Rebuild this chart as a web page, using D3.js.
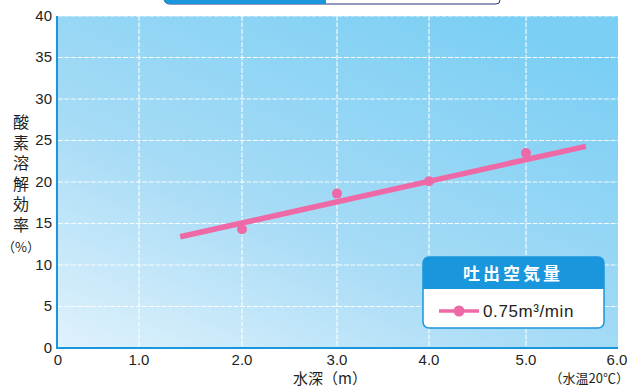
<!DOCTYPE html>
<html>
<head>
<meta charset="utf-8">
<script src="https://cdn.jsdelivr.net/npm/d3@7"></script>
<style>
  html, body { margin: 0; padding: 0; background: #fff; }
  svg { display: block; }
</style>
</head>
<body>
<svg id="chart" width="630" height="387"></svg>
<script>
// Measured points: water depth (m) vs dissolved-oxygen efficiency (%)
const depth = [2.0, 3.0, 4.0, 5.0];
const efficiency = [14.3, 18.6, 20.1, 23.5];
// Trend line end points
const trendDepth = [1.4, 5.65];
const trendEff = [13.4, 24.3];
// Axis ticks
const xTicks = [0, 1, 2, 3, 4, 5, 6];
const xTickLabels = ["0", "1.0", "2.0", "3.0", "4.0", "5.0", "6.0"];
const yTicks = [0, 5, 10, 15, 20, 25, 30, 35, 40];
const yTitle = "酸素溶解効率";
const legendTitle = "吐出空気量";
const seriesName = "0.75m³/min";

const svg = d3.select("#chart");
const L = 58, R = 618, T = 16, B = 348;
const pink = "#ee6aa7";
const blue = "#1a96dc";
const numFont = "'Liberation Sans', Arial, sans-serif";
const jpFont = "'Noto Sans CJK JP', sans-serif";

// The depth axis is drawn with slightly uneven spacing between ticks
const x = d3.scaleLinear().domain(xTicks).range([L, 139, 242, 337, 429, 526, R]);
const y = d3.scaleLinear().domain([0, 40]).range([B, T]);

// Background gradient of the plot area
const defs = svg.append("defs");
const grad = defs.append("linearGradient").attr("id", "bg")
  .attr("x1", 0).attr("y1", 1).attr("x2", 0.75).attr("y2", 0);
grad.append("stop").attr("offset", 0).attr("stop-color", "#e0f2fc");
grad.append("stop").attr("offset", 0.45).attr("stop-color", "#a6dbf6");
grad.append("stop").attr("offset", 1).attr("stop-color", "#7ccff4");

// Title tab peeking in at the top
svg.append("path")
  .attr("d", "M164,-20 L164,-2 Q164,4 170,4 L496,4 Q500,4 500,0 L500,-20")
  .attr("fill", "#fff").attr("stroke", "#23357a").attr("stroke-width", 1);
svg.append("path")
  .attr("d", "M164,-20 L164,-2 Q164,4 170,4 L326,4 L326,-20 Z")
  .attr("fill", blue);

svg.append("rect").attr("x", L).attr("y", T).attr("width", R - L).attr("height", B - T)
  .attr("fill", "url(#bg)");

// Dashed white grid
const grid = svg.append("g").attr("stroke", "#fff").attr("stroke-width", 1.2)
  .attr("stroke-dasharray", "5,1.5").attr("opacity", 0.9);
grid.selectAll(".gx").data(xTicks.filter(d => d > 0 && d < 6)).join("line")
  .attr("x1", d => x(d)).attr("x2", d => x(d)).attr("y1", T).attr("y2", B);
grid.selectAll(".gy").data(yTicks.filter(d => d > 0)).join("line")
  .attr("x1", L).attr("x2", R).attr("y1", d => y(d)).attr("y2", d => y(d));

// Axes lines
svg.append("line").attr("x1", L - 1).attr("x2", L - 1).attr("y1", T).attr("y2", B + 1)
  .attr("stroke", blue).attr("stroke-width", 2);
svg.append("line").attr("x1", L - 1).attr("x2", R).attr("y1", B).attr("y2", B)
  .attr("stroke", blue).attr("stroke-width", 2);

// Y tick labels
svg.append("g").selectAll("text").data(yTicks).join("text")
  .attr("x", 52).attr("y", d => y(d) + 1)
  .attr("text-anchor", "end").attr("dominant-baseline", "middle")
  .attr("font-family", numFont).attr("font-size", 15).attr("fill", "#231f20")
  .text(d => d);

// X tick labels
svg.append("g").selectAll("text").data(xTicks).join("text")
  .attr("x", (d, i) => i === 6 ? x(d) - 1 : x(d)).attr("y", 365)
  .attr("text-anchor", "middle")
  .attr("font-family", numFont).attr("font-size", 15).attr("fill", "#231f20")
  .text((d, i) => xTickLabels[i]);

// Y axis title, set vertically
svg.append("text").attr("x", 21).attr("y", 114)
  .attr("writing-mode", "vertical-rl")
  .style("text-orientation", "upright")
  .attr("letter-spacing", 4.6)
  .attr("font-family", jpFont).attr("font-size", 16).attr("fill", "#231f20")
  .text(yTitle);
svg.append("text").attr("x", 21).attr("y", 252).attr("text-anchor", "middle")
  .attr("font-family", jpFont).attr("font-size", 13).attr("fill", "#231f20")
  .text("（%）");

// X axis title and note
svg.append("text").attr("x", 330).attr("y", 384).attr("text-anchor", "middle")
  .attr("font-family", jpFont).attr("font-size", 15).attr("fill", "#231f20")
  .text("水深（m）");
svg.append("text").attr("x", 629).attr("y", 383).attr("text-anchor", "end")
  .attr("font-family", jpFont).attr("font-size", 13).attr("fill", "#231f20")
  .text("（水温20℃）");

// Trend line
const line = d3.line().x(d => x(d[0])).y(d => y(d[1]));
svg.append("path").datum(d3.zip(trendDepth, trendEff))
  .attr("d", line).attr("fill", "none").attr("stroke", pink)
  .attr("stroke-width", 5.5).attr("stroke-linecap", "butt");

// Measured points
svg.append("g").selectAll("circle").data(d3.zip(depth, efficiency)).join("circle")
  .attr("cx", d => x(d[0])).attr("cy", d => y(d[1])).attr("r", 5)
  .attr("fill", pink);

// Legend
const lg = svg.append("g");
lg.append("rect").attr("x", 423).attr("y", 257).attr("width", 181).attr("height", 71)
  .attr("rx", 6).attr("fill", "#fff").attr("stroke", blue).attr("stroke-width", 1.5);
lg.append("path")
  .attr("d", "M423,289 L423,263 Q423,257 429,257 L598,257 Q604,257 604,263 L604,289 Z")
  .attr("fill", blue);
lg.append("text").attr("x", 513).attr("y", 280).attr("text-anchor", "middle")
  .attr("font-family", jpFont).attr("font-size", 17).attr("font-weight", "bold")
  .attr("letter-spacing", 3).attr("fill", "#fff").text(legendTitle);
lg.append("line").attr("x1", 439).attr("x2", 479).attr("y1", 311).attr("y2", 311)
  .attr("stroke", pink).attr("stroke-width", 3.5);
lg.append("circle").attr("cx", 459).attr("cy", 311).attr("r", 5.5).attr("fill", pink);
lg.append("text").attr("x", 483).attr("y", 317)
  .attr("font-family", numFont).attr("font-size", 17).attr("letter-spacing", 0.6)
  .attr("fill", "#231f20").text(seriesName);
</script>
</body>
</html>
